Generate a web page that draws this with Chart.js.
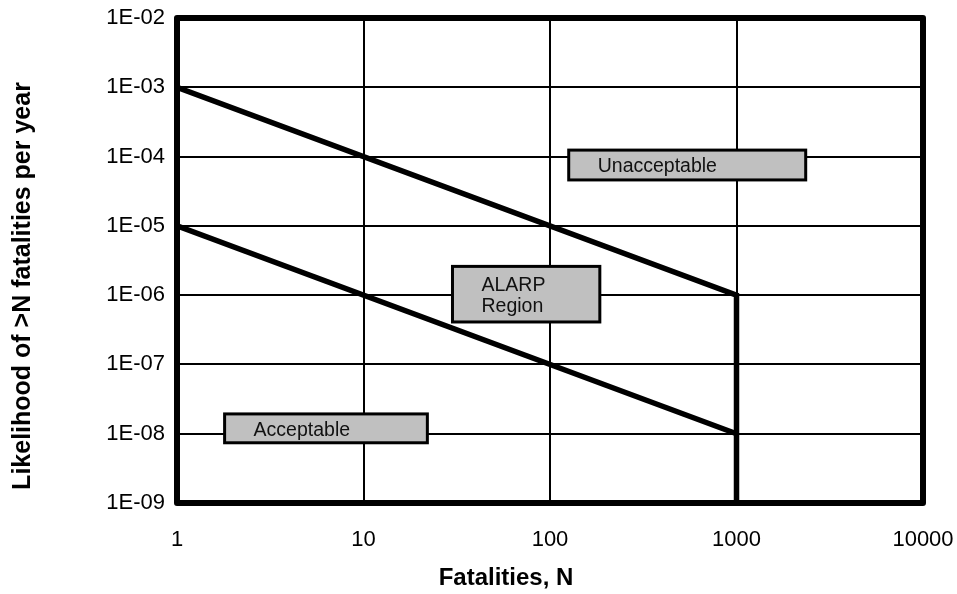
<!DOCTYPE html>
<html>
<head>
<meta charset="utf-8">
<script src="https://cdn.jsdelivr.net/npm/chart.js@4.4.1/dist/chart.umd.min.js"></script>
<style>
  body { margin: 0; background: #fff; }
  canvas { display: block; }
</style>
</head>
<body>
<canvas id="graph" width="957" height="594"></canvas>
<script>
// F-N criterion lines (fatalities N vs. frequency per year)
const upperN = [1, 1000, 1000];
const upperF = [1e-3, 1e-6, 1e-9];
const lowerN = [1, 1000];
const lowerF = [1e-5, 1e-8];

// axis ticks
const xTicks = [1, 10, 100, 1000, 10000];
const yTicks = [1e-9, 1e-8, 1e-7, 1e-6, 1e-5, 1e-4, 1e-3, 1e-2];
const yTickLabels = ['1E-09', '1E-08', '1E-07', '1E-06', '1E-05', '1E-04', '1E-03', '1E-02'];

// region label boxes, in data units
const regionLabels = [['Unacceptable'], ['ALARP', 'Region'], ['Acceptable']];
const regionNmin = [126, 30, 1.8];
const regionNmax = [2350, 185, 22];
const regionFtop = [1.24e-4, 2.6e-6, 1.93e-8];
const regionFbot = [4.6e-5, 4.1e-7, 7.4e-9];

const FONT = '"Liberation Sans", Arial, sans-serif';

const regionBoxes = {
    id: 'regionBoxes',
    afterDatasetsDraw(chart) {
        const { ctx, scales: { x, y } } = chart;
        ctx.save();
        regionLabels.forEach((lines, i) => {
            const x0 = x.getPixelForValue(regionNmin[i]);
            const x1 = x.getPixelForValue(regionNmax[i]);
            const y0 = y.getPixelForValue(regionFtop[i]);
            const y1 = y.getPixelForValue(regionFbot[i]);
            ctx.fillStyle = '#c0c0c0';
            ctx.fillRect(x0, y0, x1 - x0, y1 - y0);
            ctx.lineWidth = 3;
            ctx.strokeStyle = '#000';
            ctx.strokeRect(x0, y0, x1 - x0, y1 - y0);
            ctx.fillStyle = '#111';
            ctx.font = '19.5px ' + FONT;
            ctx.textAlign = 'left';
            ctx.textBaseline = 'middle';
            const lh = 21;
            const mid = (y0 + y1) / 2 + 2;
            lines.forEach((t, k) => {
                ctx.fillText(t, x0 + 29, mid + (k - (lines.length - 1) / 2) * lh);
            });
        });
        ctx.restore();
    },
    afterDraw(chart) {
        const { ctx, chartArea: a } = chart;
        ctx.save();
        ctx.lineWidth = 6;
        ctx.strokeStyle = '#000';
        ctx.lineJoin = 'round';
        ctx.strokeRect(a.left, a.top, a.right - a.left, a.bottom - a.top);

        // axis titles
        ctx.fillStyle = '#000';
        ctx.textAlign = 'center';
        ctx.textBaseline = 'middle';
        ctx.font = 'bold 24px ' + FONT;
        ctx.fillText('Fatalities, N', 506, 578);
        ctx.font = 'bold 25px ' + FONT;
        ctx.translate(23, 286);
        ctx.rotate(-Math.PI / 2);
        ctx.fillText('Likelihood of >N fatalities per year', 0, 0);
        ctx.restore();
    }
};

new Chart(document.getElementById('graph'), {
    type: 'line',
    data: {
        datasets: [
            {
                data: upperN.map((n, i) => ({ x: n, y: upperF[i] })),
                borderColor: '#000',
                borderWidth: 5.5,
                pointRadius: 0,
                tension: 0
            },
            {
                data: lowerN.map((n, i) => ({ x: n, y: lowerF[i] })),
                borderColor: '#000',
                borderWidth: 5.5,
                pointRadius: 0,
                tension: 0
            }
        ]
    },
    options: {
        responsive: false,
        animation: false,
        devicePixelRatio: 1,
        layout: { padding: { top: 18, right: 34, left: 0, bottom: 0 } },
        plugins: {
            legend: { display: false },
            tooltip: { enabled: false }
        },
        scales: {
            x: {
                type: 'logarithmic',
                min: 1,
                max: 10000,
                afterBuildTicks: axis => { axis.ticks = xTicks.map(v => ({ value: v })); },
                afterFit: axis => {
                    axis.height = 91;
                    axis.paddingLeft = 0;
                    axis.paddingRight = 0;
                },
                ticks: {
                    callback: v => String(v),
                    color: '#000',
                    padding: 24,
                    maxRotation: 0,
                    autoSkip: false,
                    font: { family: FONT, size: 22 }
                },
                grid: { color: '#000', lineWidth: 2, drawTicks: false },
                border: { display: false }
            },
            y: {
                type: 'logarithmic',
                min: 1e-9,
                max: 1e-2,
                afterBuildTicks: axis => { axis.ticks = yTicks.map(v => ({ value: v })); },
                afterFit: axis => {
                    axis.width = 177;
                    axis.paddingTop = 0;
                    axis.paddingBottom = 0;
                },
                ticks: {
                    callback: v => {
                        const i = yTicks.findIndex(t => Math.abs(Math.log10(t) - Math.log10(v)) < 1e-6);
                        return i >= 0 ? yTickLabels[i] : '';
                    },
                    color: '#000',
                    padding: 12,
                    autoSkip: false,
                    font: { family: FONT, size: 22 }
                },
                grid: { color: '#000', lineWidth: 2, drawTicks: false },
                border: { display: false }
            }
        }
    },
    plugins: [regionBoxes]
});
</script>
</body>
</html>
